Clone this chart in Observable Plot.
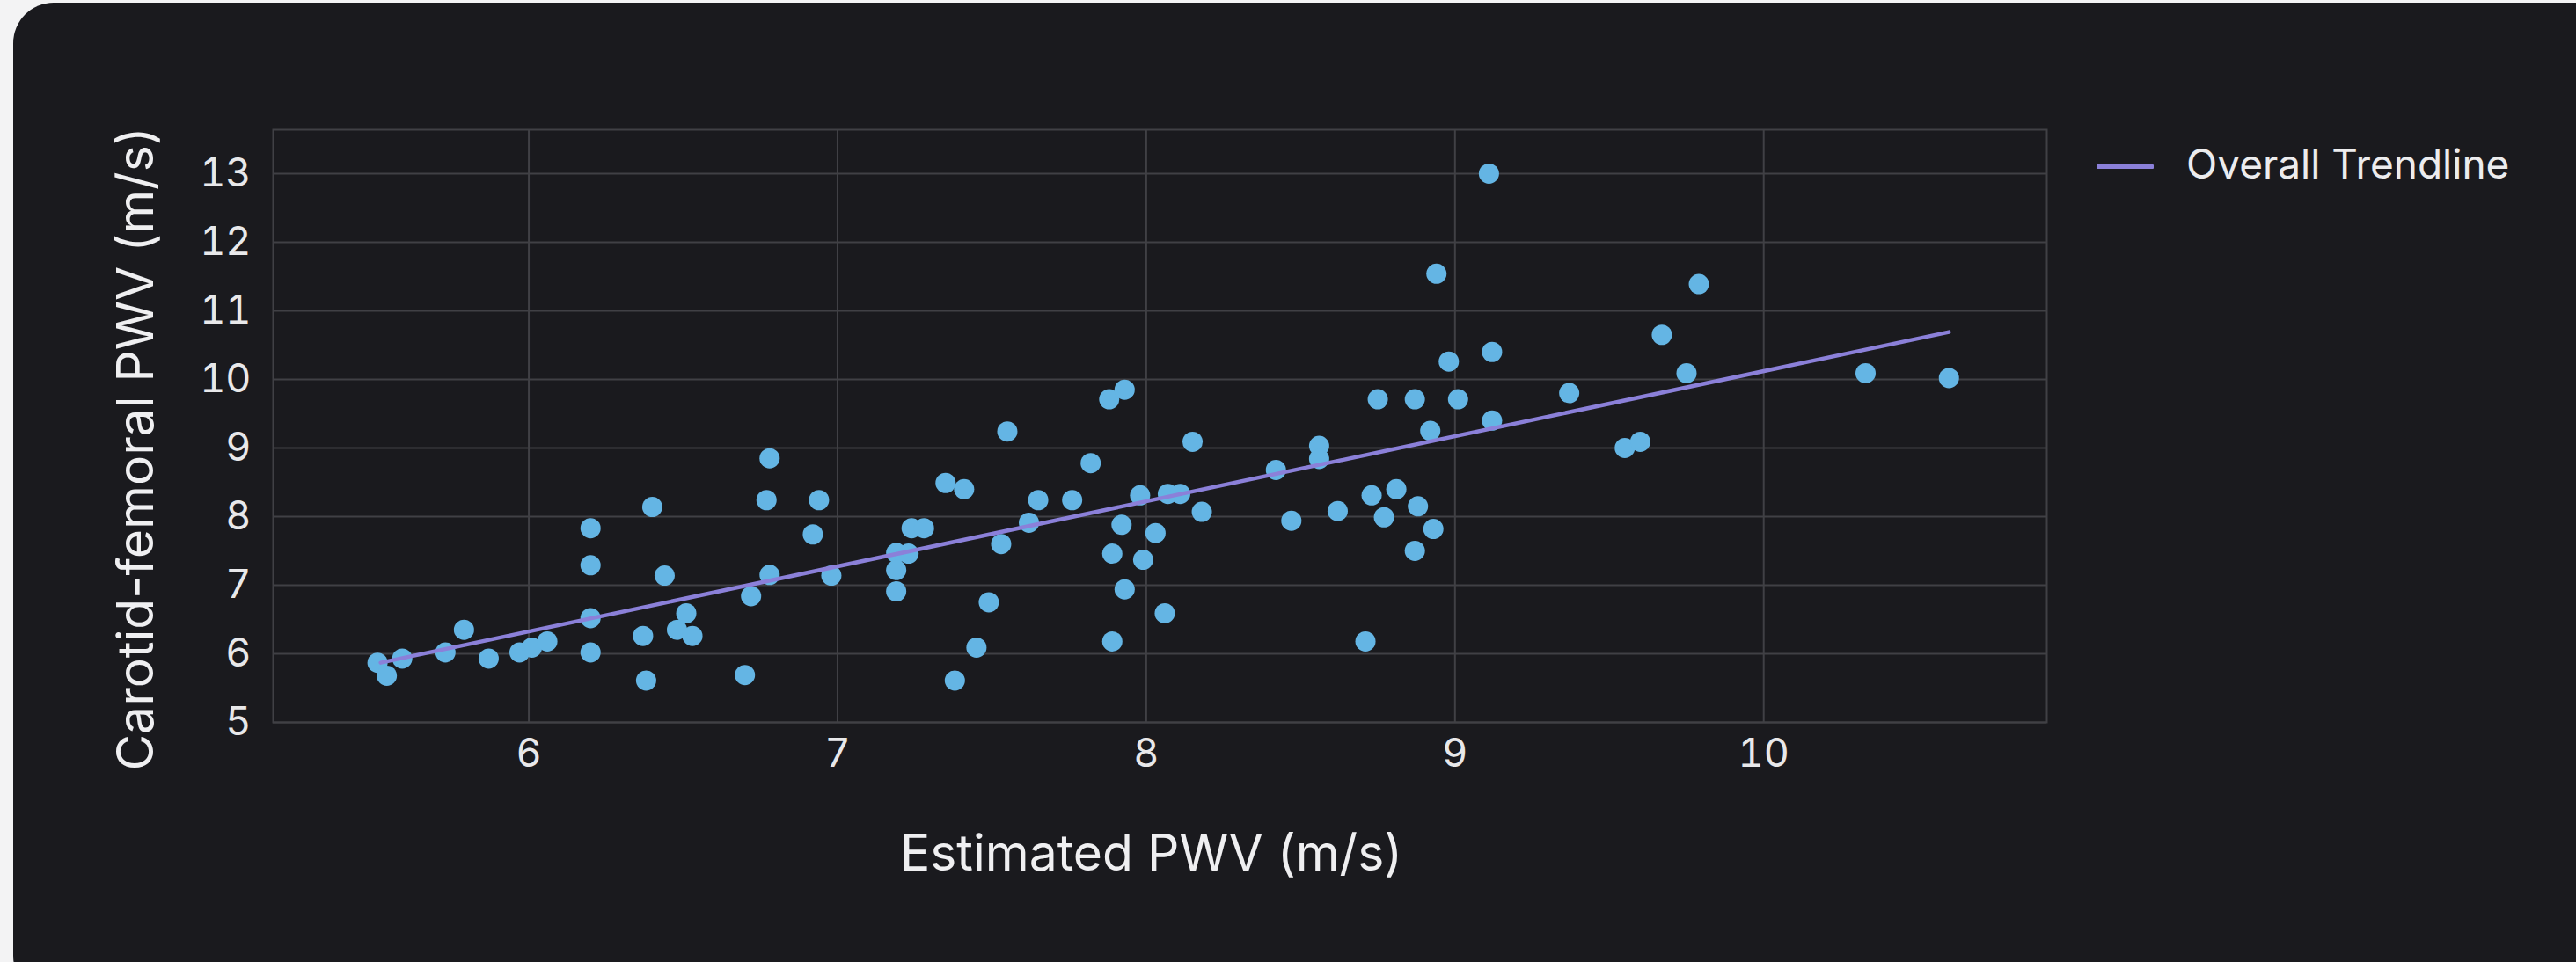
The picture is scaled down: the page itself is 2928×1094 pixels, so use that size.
<!DOCTYPE html>
<html>
<head>
<meta charset="utf-8">
<script src="https://cdn.jsdelivr.net/npm/d3@7"></script>
<script src="https://cdn.jsdelivr.net/npm/@observablehq/plot@0.6"></script>
<style>
  html, body { margin: 0; padding: 0; background: #f3f3f4; width: 2928px; height: 1094px; overflow: hidden; font-family: Inter, "Noto Sans", sans-serif; }
  #card { position: absolute; left: 15px; top: 3px; width: 2960px; height: 1130px; border-radius: 46px; background: #1a1a1e; overflow: hidden; }
  #chart { position: absolute; left: -15px; top: -3px; }
  #legend-swatch { position: absolute; left: 2368px; top: 184px; width: 65px; height: 5px; background: #8b80d9; border-radius: 1px; }
  #legend-text { position: absolute; left: 2470px; top: 159px; font-size: 46px; line-height: 48px; color: #ececee; white-space: nowrap; }
</style>
</head>
<body>
<div id="card">
  <div id="chart"></div>
  <div id="legend-swatch"></div>
  <div id="legend-text">Overall Trendline</div>
</div>
<script>
// Estimated PWV (m/s)
const estimatedPWV = [
  5.51, 5.54, 5.59, 5.73, 5.79, 5.87, 5.97, 6.01, 6.06, 6.20,
  6.20, 6.20, 6.20, 6.40, 6.44, 6.37, 6.38, 6.51, 6.48, 6.53,
  6.70, 6.72, 6.78, 6.77, 6.78, 6.94, 6.92, 6.98,
  7.19, 7.19, 7.19, 7.23, 7.24, 7.28, 7.35, 7.41, 7.38, 7.45,
  7.49, 7.55, 7.53, 7.62, 7.65, 7.76, 7.82, 7.88, 7.93, 7.89,
  7.92, 7.93, 7.89, 7.98, 7.99, 8.03, 8.06, 8.07, 8.11, 8.15,
  8.18, 8.42, 8.47, 8.56, 8.56, 8.62, 8.71, 8.73, 8.75, 8.77,
  8.81, 8.87, 8.88, 8.87, 8.93, 8.92, 8.94, 8.98,
  9.01, 9.11, 9.12, 9.12, 9.37, 9.55, 9.60, 9.67, 9.75, 9.79,
  10.33, 10.60
];
// Carotid-femoral PWV (m/s)
const carotidFemoralPWV = [
  5.87, 5.68, 5.93, 6.02, 6.35, 5.93, 6.02, 6.09, 6.18, 7.83,
  7.29, 6.52, 6.02, 8.14, 7.14, 6.26, 5.61, 6.59, 6.35, 6.26,
  5.69, 6.84, 8.85, 8.24, 7.15, 8.24, 7.74, 7.14,
  7.47, 7.22, 6.91, 7.46, 7.83, 7.83, 8.49, 8.40, 5.61, 6.09,
  6.75, 9.24, 7.60, 7.91, 8.24, 8.24, 8.78, 9.71, 9.85, 7.46,
  7.88, 6.94, 6.18, 8.31, 7.37, 7.76, 6.59, 8.33, 8.33, 9.09,
  8.07, 8.68, 7.94, 9.03, 8.84, 8.08, 6.18, 8.31, 9.71, 7.99,
  8.40, 9.71, 8.15, 7.50, 7.82, 9.25, 11.54, 10.26,
  9.71, 13.00, 10.40, 9.40, 9.80, 9.00, 9.09, 10.65, 10.09, 11.39,
  10.09, 10.02
];
// Overall trendline end points
const trendX = [5.52, 10.60];
const trendY = [5.87, 10.69];
// Tick labels
const xTicks = [6, 7, 8, 9, 10];
const yTicks = [5, 6, 7, 8, 9, 10, 11, 12, 13];
const xLabel = "Estimated PWV (m/s)";
const yLabel = "Carotid-femoral PWV (m/s)";

const points = estimatedPWV.map((x, i) => ({x, y: carotidFemoralPWV[i]}));
const trend = trendX.map((x, i) => ({x, y: trendY[i]}));

const gridColor = "#404045";
const textColor = "#e8e8ea";

const chart = Plot.plot({
  width: 2340,
  height: 1040,
  marginLeft: 310,
  marginRight: 14,
  marginTop: 147,
  marginBottom: 219,
  style: {background: "transparent", color: textColor, fontFamily: "Inter, 'Noto Sans', sans-serif", overflow: "visible"},
  x: {domain: [5.172, 10.917]},
  y: {domain: [5, 13.64]},
  marks: [
    Plot.gridX(xTicks, {stroke: gridColor, strokeOpacity: 1, strokeWidth: 2}),
    Plot.gridY(yTicks, {stroke: gridColor, strokeOpacity: 1, strokeWidth: 2}),
    Plot.frame({stroke: gridColor, strokeWidth: 2}),
    Plot.axisX(xTicks, {tickSize: 0, tickPadding: 19, fontSize: 45, label: null, fill: textColor, tickFormat: d => String(d)}),
    Plot.axisY(yTicks, {tickSize: 0, tickPadding: 25, fontSize: 45, label: null, fill: textColor, tickFormat: d => String(d)}),
    Plot.dot(points, {x: "x", y: "y", r: 11.5, fill: "#64b5e4", stroke: "none"}),
    Plot.line(trend, {x: "x", y: "y", stroke: "#8b80d9", strokeWidth: 4.5}),
    Plot.text([xLabel], {text: d => d, frameAnchor: "bottom", textAnchor: "middle", lineAnchor: "middle", dx: -10, dy: 150, fontSize: 57, fill: "#efeff1"}),
    Plot.text([yLabel], {text: d => d, frameAnchor: "left", textAnchor: "middle", lineAnchor: "middle", rotate: -90, dx: -155, dy: 26, fontSize: 57, fill: "#efeff1"})
  ]
});
document.getElementById("chart").appendChild(chart);
</script>
</body>
</html>
